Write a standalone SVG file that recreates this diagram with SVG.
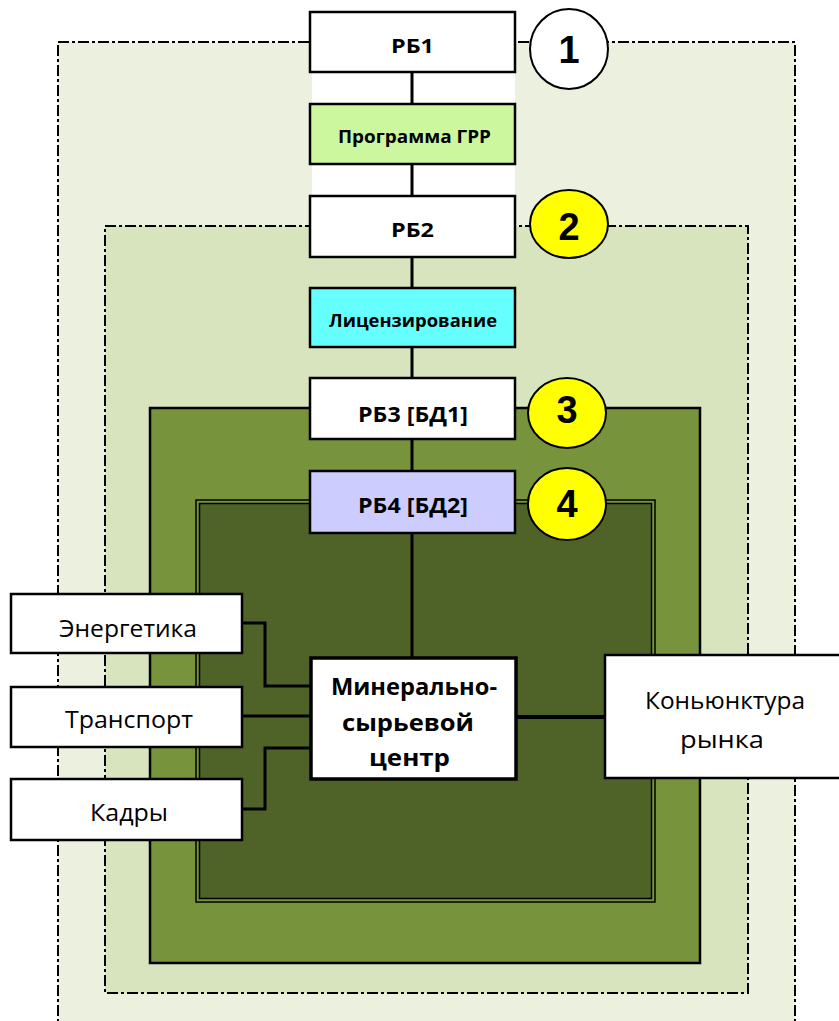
<svg xmlns="http://www.w3.org/2000/svg" width="839" height="1021" viewBox="0 0 839 1021">
<style>
.dd{stroke:#000;stroke-width:2;stroke-dasharray:11 3 3 3;}
.box{stroke:#000;stroke-width:2.5;}
.lbl{font-family:"Open Sans","Liberation Sans",sans-serif;font-weight:bold;fill:#000;}
.reg{font-family:"Open Sans","Liberation Sans",sans-serif;font-size:23px;fill:#000;}
.num{font-family:"Liberation Sans",sans-serif;font-weight:bold;font-size:38px;fill:#000;text-anchor:middle;}
.con{stroke:#000;stroke-width:3;fill:none;}
</style>
<rect width="839" height="1021" fill="#fff"/>
<g id="zone1">
<rect x="58" y="42" width="737" height="1000" fill="#ebf1de" class="dd"/>
</g>
<g id="zone2">
<rect x="105" y="226" width="643" height="767" fill="#d7e4bd" class="dd"/>
</g>
<g id="zone3">
<rect x="150" y="408" width="550" height="555" fill="#77933c" stroke="#000" stroke-width="2.5"/>
</g>
<g id="zone4">
<rect x="196" y="500" width="459" height="402" fill="#77933c" stroke="#000" stroke-width="1.5"/>
<rect x="199.5" y="503.5" width="452" height="395" fill="#4f6228" stroke="#000" stroke-width="1.5"/>
</g>
<rect x="312" y="72" width="203" height="123" fill="#fff"/>
<g id="connectors">
<line x1="412" y1="72" x2="412" y2="657" class="con"/>
<polyline points="242,623 265,623 265,686 310,686" class="con"/>
<line x1="242" y1="716" x2="310" y2="716" class="con"/>
<polyline points="242,809 265,809 265,748 310,748" class="con"/>
<line x1="516" y1="717" x2="605" y2="717" stroke="#000" stroke-width="4"/>
</g>
<g id="rb1"><rect x="310" y="12" width="205" height="60" fill="#fff" class="box"/><text x="391" y="53" class="lbl" font-size="20" textLength="43" lengthAdjust="spacingAndGlyphs">РБ1</text></g>
<g id="grr"><rect x="310" y="104" width="205" height="60" fill="#ccf79f" class="box"/><text x="338" y="143" class="lbl" font-size="17" textLength="153" lengthAdjust="spacingAndGlyphs">Программа ГРР</text></g>
<g id="rb2"><rect x="310" y="196" width="205" height="61" fill="#fff" class="box"/><text x="391" y="237" class="lbl" font-size="20" textLength="43" lengthAdjust="spacingAndGlyphs">РБ2</text></g>
<g id="lic"><rect x="310" y="288" width="205" height="59" fill="#66ffff" class="box"/><text x="329" y="327" class="lbl" font-size="17" textLength="168" lengthAdjust="spacingAndGlyphs">Лицензирование</text></g>
<g id="rb3"><rect x="310" y="378" width="205" height="61" fill="#fff" class="box"/><text x="358" y="422" class="lbl" font-size="21" textLength="110" lengthAdjust="spacingAndGlyphs">РБ3 [БД1]</text></g>
<g id="rb4"><rect x="310" y="471" width="205" height="62" fill="#ccccff" class="box"/><text x="358" y="513" class="lbl" font-size="21" textLength="110" lengthAdjust="spacingAndGlyphs">РБ4 [БД2]</text></g>
<g id="c1"><ellipse cx="569" cy="49" rx="39" ry="40" fill="#fff" stroke="#000" stroke-width="2"/><text x="569" y="63" class="num">1</text></g>
<g id="c2"><ellipse cx="569" cy="224" rx="39" ry="34" fill="#ffff00" stroke="#000" stroke-width="2"/><text x="569" y="240" class="num">2</text></g>
<g id="c3"><ellipse cx="567" cy="413" rx="39" ry="35" fill="#ffff00" stroke="#000" stroke-width="2"/><text x="567" y="423" class="num">3</text></g>
<g id="c4"><ellipse cx="567" cy="504" rx="39" ry="36" fill="#ffff00" stroke="#000" stroke-width="2"/><text x="567" y="517" class="num">4</text></g>
<g id="energ"><rect x="11" y="594" width="231" height="59" fill="#fff" class="box"/><text x="59" y="637" class="reg" textLength="138" lengthAdjust="spacingAndGlyphs">Энергетика</text></g>
<g id="trans"><rect x="11" y="687" width="231" height="60" fill="#fff" class="box"/><text x="65" y="728" class="reg" textLength="128" lengthAdjust="spacingAndGlyphs">Транспорт</text></g>
<g id="kadry"><rect x="11" y="779" width="231" height="61" fill="#fff" class="box"/><text x="90" y="821" class="reg" textLength="78" lengthAdjust="spacingAndGlyphs">Кадры</text></g>
<g id="center"><rect x="311" y="658" width="205" height="121" fill="#fff" stroke="#000" stroke-width="3.5"/>
<text class="lbl" font-size="23" x="331" y="695" textLength="166" lengthAdjust="spacingAndGlyphs">Минерально-</text>
<text class="lbl" font-size="23" x="342" y="731" textLength="132" lengthAdjust="spacingAndGlyphs">сырьевой</text>
<text class="lbl" font-size="23" x="369" y="766" textLength="81" lengthAdjust="spacingAndGlyphs">центр</text></g>
<g id="market"><rect x="605" y="655" width="240" height="123" fill="#fff" class="box"/>
<text class="reg" x="645" y="709" textLength="160" lengthAdjust="spacingAndGlyphs">Коньюнктура</text>
<text class="reg" x="680" y="748" textLength="84" lengthAdjust="spacingAndGlyphs">рынка</text></g>
</svg>
